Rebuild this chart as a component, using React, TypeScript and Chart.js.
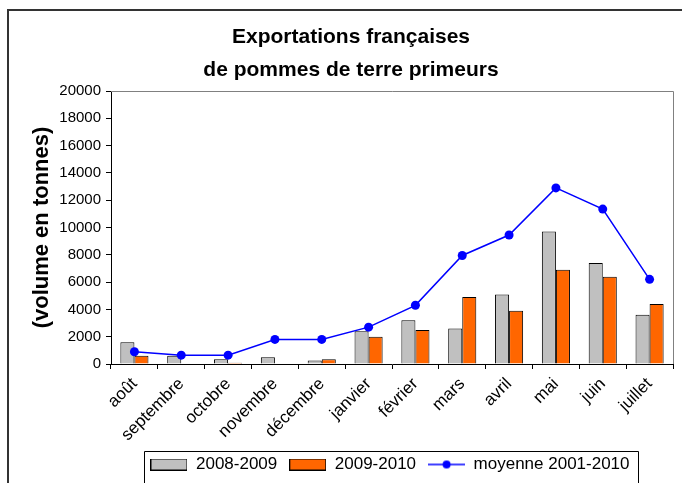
import { useEffect, useRef } from 'react';
import { Chart, registerables } from 'chart.js';

Chart.register(...registerables);

const categories = ['août', 'septembre', 'octobre', 'novembre', 'décembre', 'janvier', 'février', 'mars', 'avril', 'mai', 'juin', 'juillet'];
const series2008 = [1600, 600, 350, 500, 250, 2400, 3200, 2600, 5100, 9700, 7400, 3600];
const series2009 = [600, 0, 100, 0, 350, 2000, 2500, 4900, 3900, 6900, 6400, 4400];
const moyenne = [900, 650, 650, 1800, 1800, 2700, 4300, 7950, 9450, 12900, 11350, 6200];
const seriesLabels = ['2008-2009', '2009-2010', 'moyenne 2001-2010'];
const titleLines = ['Exportations françaises', 'de pommes de terre primeurs'];
const yTitle = '(volume en tonnes)';
const yMin = 0;
const yMax = 20000;
const yStep = 2000;

const GRAY = '#C0C0C0';
const ORANGE = '#FF6600';
const BLUE = '#0000FF';
const FONT = '"Liberation Sans", Arial, sans-serif';

function makeBoxSwatch(fill: string) {
  const c = document.createElement('canvas');
  c.width = 37;
  c.height = 12;
  const x = c.getContext('2d')!;
  x.fillStyle = fill;
  x.fillRect(0.5, 0.5, 36, 11);
  x.strokeStyle = '#000';
  x.lineWidth = 1;
  x.strokeRect(0.5, 0.5, 36, 11);
  return c;
}

function makeLineSwatch() {
  const c = document.createElement('canvas');
  c.width = 37;
  c.height = 10;
  const x = c.getContext('2d')!;
  x.strokeStyle = BLUE;
  x.lineWidth = 1.5;
  x.beginPath();
  x.moveTo(0, 5);
  x.lineTo(37, 5);
  x.stroke();
  x.fillStyle = BLUE;
  x.beginPath();
  x.arc(18.5, 5, 4, 0, Math.PI * 2);
  x.fill();
  return c;
}

export default function App() {
  const ref = useRef<HTMLCanvasElement | null>(null);

  useEffect(() => {
    document.body.style.margin = '0';
    const canvas = ref.current!;
    const swatches = [makeBoxSwatch(GRAY), makeBoxSwatch(ORANGE), makeLineSwatch()];

    const decor = {
      id: 'decor',
      beforeDraw(chart: any) {
        const ctx = chart.ctx;
        ctx.save();
        ctx.fillStyle = '#fff';
        ctx.fillRect(0, 0, chart.width, chart.height);
        ctx.strokeStyle = '#333';
        ctx.lineWidth = 2;
        ctx.strokeRect(8, 10, chart.width + 20, chart.height + 20);
        ctx.restore();
      },
      afterLayout(chart: any) {
        const lg = chart.legend;
        if (lg) {
          const shift = 390 - (lg.left + lg.right) / 2;
          lg.left += shift;
          lg.right += shift;
        }
        const tb = chart.titleBlock;
        if (tb) {
          const shift = 351 - (tb.left + tb.right) / 2;
          tb.left += shift;
          tb.right += shift;
        }
      },
      afterDraw(chart: any) {
        const ctx = chart.ctx;
        const a = chart.chartArea;
        ctx.save();
        ctx.strokeStyle = '#808080';
        ctx.lineWidth = 1;
        ctx.beginPath();
        ctx.moveTo(a.left, a.top + 0.5);
        ctx.lineTo(a.right + 0.5, a.top + 0.5);
        ctx.lineTo(a.right + 0.5, a.bottom);
        ctx.stroke();
        const lg = chart.legend;
        if (lg && lg.legendHitBoxes && lg.legendHitBoxes.length) {
          const hb = lg.legendHitBoxes;
          let minL = Infinity;
          let maxR = -Infinity;
          hb.forEach((h: any) => {
            minL = Math.min(minL, h.left);
            maxR = Math.max(maxR, h.left + h.width);
          });
          const first = hb[0];
          const l = Math.round(minL - 6) + 0.5;
          const r = Math.round(maxR + 8) + 0.5;
          const t = Math.round(first.top + first.height / 2 - 14) + 0.5;
          ctx.strokeStyle = '#000';
          ctx.beginPath();
          ctx.moveTo(l, chart.height + 5);
          ctx.lineTo(l, t);
          ctx.lineTo(r, t);
          ctx.lineTo(r, chart.height + 5);
          ctx.stroke();
        }
        ctx.restore();
      },
    };

    const chart = new Chart(canvas, {
      type: 'bar',
      data: {
        labels: categories,
        datasets: [
          {
            type: 'bar',
            label: seriesLabels[0],
            data: series2008,
            backgroundColor: GRAY,
            borderColor: '#000',
            borderWidth: 1,
            order: 1,
          },
          {
            type: 'bar',
            label: seriesLabels[1],
            data: series2009,
            backgroundColor: ORANGE,
            borderColor: '#000',
            borderWidth: 1,
            order: 1,
          },
          {
            type: 'line',
            label: seriesLabels[2],
            data: moyenne,
            borderColor: BLUE,
            backgroundColor: BLUE,
            borderWidth: 1.5,
            pointRadius: 4.5,
            pointBackgroundColor: BLUE,
            pointBorderWidth: 0,
            tension: 0,
            order: 0,
          } as any,
        ],
      },
      options: {
        animation: false,
        responsive: false,
        maintainAspectRatio: false,
        layout: { padding: { left: 0, right: 9, top: 0, bottom: 0 } },
        datasets: {
          bar: { categoryPercentage: 0.6, barPercentage: 1 },
        } as any,
        scales: {
          x: {
            offset: true,
            grid: {
              display: true,
              offset: true,
              drawOnChartArea: false,
              drawTicks: true,
              tickLength: 5,
              color: '#000',
            },
            border: { display: true, color: '#000', width: 1 },
            ticks: {
              autoSkip: false,
              minRotation: 45,
              maxRotation: 45,
              color: '#000',
              padding: 5,
              font: { family: FONT, size: 17 },
            },
            afterFit(scale: any) {
              scale.height = 80;
            },
          },
          y: {
            min: yMin,
            max: yMax,
            ticks: {
              stepSize: yStep,
              color: '#000',
              padding: 5,
              font: { family: FONT, size: 15 },
              callback: (v: any) => String(v),
            },
            grid: {
              display: true,
              drawOnChartArea: false,
              drawTicks: true,
              tickLength: 5,
              color: '#000',
            },
            border: { display: true, color: '#000', width: 1 },
            title: {
              display: true,
              text: yTitle,
              color: '#000',
              font: { family: FONT, size: 22, weight: 'bold' },
              padding: { top: 29, bottom: 0 },
            },
            afterFit(scale: any) {
              scale.width = 111;
            },
          },
        },
        plugins: {
          title: {
            display: true,
            text: titleLines,
            color: '#000',
            font: { family: FONT, size: 21, weight: 'bold', lineHeight: 33 / 21 },
            padding: { top: 20.5, bottom: 4.5 },
          },
          legend: {
            display: true,
            position: 'bottom',
            labels: {
              usePointStyle: true,
              pointStyleWidth: 37,
              padding: 12,
              color: '#000',
              font: { family: FONT, size: 17 },
              generateLabels(ch: any) {
                const items = Chart.defaults.plugins.legend.labels.generateLabels(ch);
                return items
                  .slice()
                  .sort((a: any, b: any) => a.datasetIndex - b.datasetIndex)
                  .map((it: any) => ({ ...it, pointStyle: swatches[it.datasetIndex] }));
              },
            },
          },
          tooltip: { enabled: false },
        },
      },
      plugins: [decor],
    });

    return () => chart.destroy();
  }, []);

  return (
    <div style={{ width: 682, height: 483 }}>
      <canvas ref={ref} width={682} height={483} style={{ display: 'block', width: 682, height: 483 }} />
    </div>
  );
}
